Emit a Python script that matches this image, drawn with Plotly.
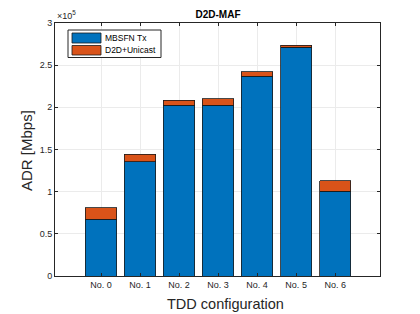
import plotly.graph_objects as go

categories = ["No. 0", "No. 1", "No. 2", "No. 3", "No. 4", "No. 5", "No. 6"]
mbsfn_tx = [67500, 135600, 202500, 202500, 237000, 271000, 100700]
d2d_unicast = [13500, 8700, 5900, 7500, 5000, 2700, 12300]
series_names = ["MBSFN Tx", "D2D+Unicast"]
y_tickvals = [0, 50000, 100000, 150000, 200000, 250000, 300000]
y_ticktext = ["0", "0.5", "1", "1.5", "2", "2.5", "3"]

FONT = "Liberation Sans, Arial, Helvetica, sans-serif"
AX = "#262626"
BLUE = "#0072BD"
ORANGE = "#D95319"

# figure pixel geometry (page has an 8px body margin)
W, H = 412, 306
L, R, T, B = 47, 40, 15, 38
PW, PH = W - L - R, H - T - B


def px(fx):
    return (fx - L) / PW


def py(fy):
    return 1 - (fy - T) / PH


fig = go.Figure()
fig.add_trace(go.Bar(x=categories, y=mbsfn_tx, name=series_names[0],
                     marker=dict(color=BLUE, line=dict(color="#1a1a1a", width=0.8)),
                     width=0.8, showlegend=False))
fig.add_trace(go.Bar(x=categories, y=d2d_unicast, name=series_names[1],
                     marker=dict(color=ORANGE, line=dict(color="#1a1a1a", width=0.8)),
                     width=0.8, showlegend=False))

fig.update_layout(
    width=W, height=H,
    barmode="stack",
    paper_bgcolor="white", plot_bgcolor="white",
    margin=dict(l=L, r=R, t=T, b=B, autoexpand=False),
    font=dict(family=FONT, size=9, color=AX),
    title=dict(text="<b>D2D-MAF</b>", x=210 / W, xanchor="center",
               y=1 - 6 / H, yanchor="middle", font=dict(size=10, color="black")),
    showlegend=False,
    xaxis=dict(
        type="category",
        range=[-1.18, 7.15],
        showgrid=True, gridcolor="#ebebeb", gridwidth=1,
        ticks="inside", ticklen=3, tickcolor=AX,
        showline=True, linecolor=AX, linewidth=1, mirror="ticks",
        tickfont=dict(size=9, color=AX),
        zeroline=False,
    ),
    yaxis=dict(
        range=[0, 300000],
        tickvals=y_tickvals, ticktext=y_ticktext,
        showgrid=True, gridcolor="#ebebeb", gridwidth=1,
        ticks="inside", ticklen=3, tickcolor=AX,
        showline=True, linecolor=AX, linewidth=1, mirror="ticks",
        tickfont=dict(size=9, color=AX),
        zeroline=False,
    ),
)

# axis titles
fig.add_annotation(text="TDD configuration", xref="paper", yref="paper",
                   x=px(217), y=py(296), xanchor="center", yanchor="middle",
                   showarrow=False, font=dict(size=14.5, color=AX))
fig.add_annotation(text="ADR [Mbps]", xref="paper", yref="paper",
                   x=px(18), y=py(143), xanchor="center", yanchor="middle",
                   textangle=-90, showarrow=False, font=dict(size=15, color=AX))
# exponent
fig.add_annotation(text="×10<sup>5</sup>", xref="paper", yref="paper",
                   x=px(47), y=py(15), xanchor="left", yanchor="bottom",
                   showarrow=False, font=dict(size=9, color=AX))

# legend box drawn manually (MATLAB style)
fig.add_shape(type="rect", xref="paper", yref="paper",
              x0=px(60), x1=px(153), y0=py(22), y1=py(49.5),
              line=dict(color=AX, width=1), fillcolor="white", layer="above")
sw = [(25, 35, BLUE), (37.5, 47, ORANGE)]
for (ya, yb, col), name in zip(sw, series_names):
    fig.add_shape(type="rect", xref="paper", yref="paper",
                  x0=px(64), x1=px(93), y0=py(ya), y1=py(yb),
                  line=dict(color="#1a1a1a", width=0.8), fillcolor=col, layer="above")
    fig.add_annotation(text=name, xref="paper", yref="paper",
                       x=px(95), y=py((ya + yb) / 2), xanchor="left", yanchor="middle",
                       showarrow=False, font=dict(size=8.5, color="black"))

fig.write_html("out.html")
